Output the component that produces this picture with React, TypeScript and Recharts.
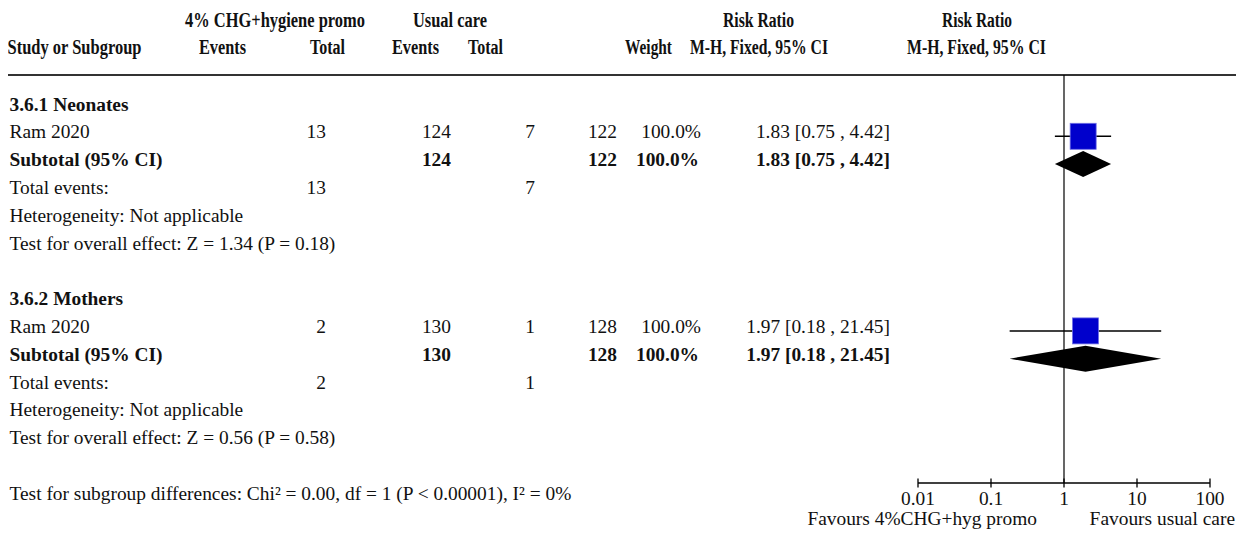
import React from 'react';
import {
  ComposedChart,
  XAxis,
  YAxis,
  Scatter,
  ErrorBar,
  Area,
  ReferenceLine,
  Customized,
} from 'recharts';

// ---- data ----
const groupTitles = ['3.6.1 Neonates', '3.6.2 Mothers'];
const studyNames = ['Ram 2020', 'Ram 2020'];
const expEvents = [13, 2];
const expTotals = [124, 130];
const ctlEvents = [7, 1];
const ctlTotals = [122, 128];
const weights = [100.0, 100.0];
const riskRatios = [1.83, 1.97];
const ciLower = [0.75, 0.18];
const ciUpper = [4.42, 21.45];
const zValues = [1.34, 0.56];
const pValues = [0.18, 0.58];
const axisTicks = [0.01, 0.1, 1, 10, 100];
const leftFavours = 'Favours 4%CHG+hyg promo';
const rightFavours = 'Favours usual care';
const subgroupTest =
  'Test for subgroup differences: Chi\u00B2 = 0.00, df = 1 (P < 0.00001), I\u00B2 = 0%';

// ---- layout ----
const W = 1236;
const H = 526;
const RULE_END = 1230;
const PLOT_LEFT = 910;
const PLOT_RIGHT = 1202;
const PLOT_TOP = 67;
const PLOT_BOTTOM = 475;
const ROW_H = 27.8;
const ROW0_BASE = 102.5; // text baseline of row 0
const MARK_SHIFT = 2; // marks sit slightly above the text baseline
const ROWS_PER_GROUP = 7;
const SUBGROUP_ROW = 14;
const SQUARE = 26;
const DIAMOND_HALF = 13 / ROW_H;

const rowCenter0 = ROW0_BASE - MARK_SHIFT;
const yTop = (PLOT_TOP - rowCenter0) / ROW_H;
const yBottom = (PLOT_BOTTOM - rowCenter0) / ROW_H;
const baseline = (row: number) => ROW0_BASE + row * ROW_H;

const FONT = '"Liberation Serif", "Times New Roman", serif';
const FS = 19.4;
const HFS = 20;
const INK = '#111';

const fmtCI = (i: number) =>
  `${riskRatios[i].toFixed(2)} [${ciLower[i].toFixed(2)} , ${ciUpper[i].toFixed(2)}]`;

// study squares with CI whiskers
const studyPoints = riskRatios.map((rr, i) => ({
  x: rr,
  y: i * ROWS_PER_GROUP + 1,
  err: [rr - ciLower[i], ciUpper[i] - rr],
}));

// pooled diamonds (range areas)
const diamondData = riskRatios.map((rr, i) => {
  const row = i * ROWS_PER_GROUP + 2;
  return [
    { x: ciLower[i], band: [row, row] },
    { x: rr, band: [row - DIAMOND_HALF, row + DIAMOND_HALF] },
    { x: ciUpper[i], band: [row, row] },
  ];
});

const SquareShape = (props: any) => {
  const { cx, cy } = props;
  return (
    <rect
      x={cx - SQUARE / 2}
      y={cy - SQUARE / 2}
      width={SQUARE}
      height={SQUARE}
      fill="#0000cc"
      stroke="#6f6fe6"
      strokeWidth={0.8}
    />
  );
};

const AxisTick = (props: any) => {
  const { x, y, payload } = props;
  return (
    <g>
      <line x1={x} x2={x} y1={y - 4.5} y2={y + 4.5} stroke="#000" strokeWidth={1.3} />
      <text x={x} y={y + 22} textAnchor="middle" fontFamily={FONT} fontSize={FS} fill={INK}>
        {String(payload.value)}
      </text>
    </g>
  );
};

// header cells: text, centre x, rendered width, line
const headerCells: [string, number, number, number][] = [
  ['4% CHG+hygiene promo', 267, 180, 0],
  ['Usual care', 442, 74, 0],
  ['Risk Ratio', 750.5, 71, 0],
  ['Risk Ratio', 969, 70, 0],
  ['Events', 214.5, 47, 1],
  ['Total', 319.5, 35, 1],
  ['Events', 407.5, 47, 1],
  ['Total', 477.5, 35, 1],
  ['Weight', 640.5, 47, 1],
  ['M-H, Fixed, 95% CI', 751, 138, 1],
  ['M-H, Fixed, 95% CI', 968.5, 139, 1],
];
const headerBase = [19, 46];

// right edges of numeric columns
const COL = { ev1: 318, tot1: 443, ev2: 527, tot2: 609, wt: 693, ci: 882 };
const LEFT_X = 1.5;

const T = (p: {
  x: number;
  row: number;
  bold?: boolean;
  anchor?: 'start' | 'end' | 'middle';
  children: React.ReactNode;
}) => (
  <text
    x={p.x}
    y={baseline(p.row)}
    textAnchor={p.anchor ?? 'end'}
    fontFamily={FONT}
    fontSize={FS}
    fontWeight={p.bold ? 'bold' : 'normal'}
    fill={INK}
  >
    {p.children}
  </text>
);

const TableLayer = () => (
  <g>
    {headerCells.map(([t, cx, w, line], k) => (
      <text
        key={`h${k}`}
        x={cx}
        y={headerBase[line]}
        textAnchor="middle"
        fontFamily={FONT}
        fontSize={HFS}
        fontWeight="bold"
        fill={INK}
        textLength={w}
        lengthAdjust="spacingAndGlyphs"
      >
        {t}
      </text>
    ))}
    <text
      x={-0.5}
      y={headerBase[1]}
      fontFamily={FONT}
      fontSize={HFS}
      fontWeight="bold"
      fill={INK}
      textLength={134}
      lengthAdjust="spacingAndGlyphs"
    >
      Study or Subgroup
    </text>
    <line x1={0} x2={RULE_END} y1={PLOT_TOP} y2={PLOT_TOP} stroke="#333" strokeWidth={2} />

    {groupTitles.map((title, i) => {
      const r = i * ROWS_PER_GROUP;
      return (
        <g key={`g${i}`}>
          <T x={LEFT_X} row={r} bold anchor="start">{title}</T>

          <T x={LEFT_X} row={r + 1} anchor="start">{studyNames[i]}</T>
          <T x={COL.ev1} row={r + 1}>{expEvents[i]}</T>
          <T x={COL.tot1} row={r + 1}>{expTotals[i]}</T>
          <T x={COL.ev2} row={r + 1}>{ctlEvents[i]}</T>
          <T x={COL.tot2} row={r + 1}>{ctlTotals[i]}</T>
          <T x={COL.wt} row={r + 1}>{`${weights[i].toFixed(1)}%`}</T>
          <T x={COL.ci} row={r + 1}>{fmtCI(i)}</T>

          <T x={LEFT_X} row={r + 2} bold anchor="start">Subtotal (95% CI)</T>
          <T x={COL.tot1} row={r + 2} bold>{expTotals[i]}</T>
          <T x={COL.tot2} row={r + 2} bold>{ctlTotals[i]}</T>
          <T x={COL.wt - 2} row={r + 2} bold>{`${weights[i].toFixed(1)}%`}</T>
          <T x={COL.ci} row={r + 2} bold>{fmtCI(i)}</T>

          <T x={LEFT_X} row={r + 3} anchor="start">Total events:</T>
          <T x={COL.ev1} row={r + 3}>{expEvents[i]}</T>
          <T x={COL.ev2} row={r + 3}>{ctlEvents[i]}</T>

          <T x={LEFT_X} row={r + 4} anchor="start">Heterogeneity: Not applicable</T>
          <T x={LEFT_X} row={r + 5} anchor="start">
            {`Test for overall effect: Z = ${zValues[i].toFixed(2)} (P = ${pValues[i].toFixed(2)})`}
          </T>
        </g>
      );
    })}

    <T x={LEFT_X} row={SUBGROUP_ROW} anchor="start">{subgroupTest}</T>

    <text x={1029} y={517} textAnchor="end" fontFamily={FONT} fontSize={FS} fill={INK}>
      {leftFavours}
    </text>
    <text x={1227} y={517} textAnchor="end" fontFamily={FONT} fontSize={FS} fill={INK}>
      {rightFavours}
    </text>
  </g>
);

export default function App() {
  return (
    <div style={{ width: W, height: H }}>
      <style>{`html{overflow:hidden}`}</style>
      <ComposedChart
        width={W}
        height={H}
        margin={{ top: PLOT_TOP, right: W - PLOT_RIGHT, bottom: 0, left: PLOT_LEFT }}
      >
        <XAxis
          dataKey="x"
          type="number"
          scale="log"
          domain={[0.01, 100]}
          ticks={axisTicks}
          interval={0}
          allowDataOverflow
          height={H - PLOT_BOTTOM}
          tickLine={false}
          tickSize={0}
          tickMargin={0}
          axisLine={{ stroke: '#000', strokeWidth: 1.3 }}
          tick={<AxisTick />}
        />
        <YAxis
          dataKey="y"
          type="number"
          hide
          reversed
          domain={[yTop, yBottom]}
          allowDataOverflow
        />
        <ReferenceLine x={1} stroke="#000" strokeWidth={1.2} />
        {diamondData.map((d, i) => (
          <Area
            key={`d${i}`}
            data={d}
            dataKey="band"
            type="linear"
            fill="#000"
            fillOpacity={1}
            stroke="none"
            dot={false}
            activeDot={false}
            isAnimationActive={false}
          />
        ))}
        <Scatter data={studyPoints} shape={<SquareShape />} isAnimationActive={false}>
          <ErrorBar dataKey="err" direction="x" width={0} stroke="#000" strokeWidth={1.5} />
        </Scatter>
        <Customized component={TableLayer} />
      </ComposedChart>
    </div>
  );
}
